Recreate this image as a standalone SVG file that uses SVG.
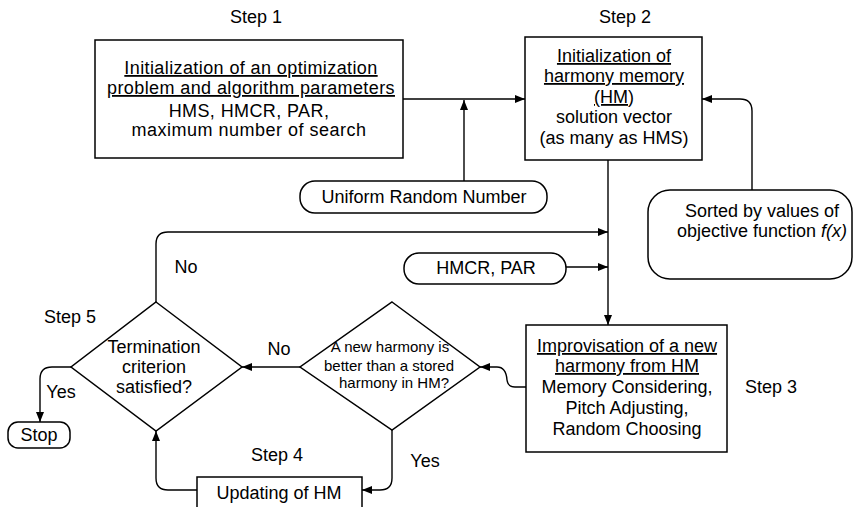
<svg xmlns="http://www.w3.org/2000/svg" width="853" height="507" viewBox="0 0 853 507">
<defs>
<marker id="ah" viewBox="0 0 10 8" refX="10" refY="4" markerWidth="10" markerHeight="8" markerUnits="userSpaceOnUse" orient="auto">
<path d="M0,0 L10,4 L0,8 Z" fill="#000"/>
</marker>
<style>
text{font-family:"Liberation Sans",Arial,sans-serif;font-size:18px;fill:#000;text-anchor:middle}
.sm{font-size:15px}
.u{text-decoration:underline}
.box{fill:#fff;stroke:#000;stroke-width:1.5}
.ln{fill:none;stroke:#000;stroke-width:1.4}
.ar{marker-end:url(#ah)}
</style>
</defs>
<rect width="853" height="507" fill="#fff"/>

<g id="labels">
<text x="256" y="23">Step 1</text>
<text x="625" y="23">Step 2</text>
<text x="771" y="393">Step 3</text>
<text x="277" y="461">Step 4</text>
<text x="70" y="323">Step 5</text>
<text x="186" y="273">No</text>
<text x="279" y="355">No</text>
<text x="61" y="398">Yes</text>
<text x="425" y="467">Yes</text>
</g>

<g id="connectors">
<path class="ln ar" d="M403,99 H525"/>
<path class="ln ar" d="M464,181 V100"/>
<path class="ln ar" d="M752,190 V111 Q752,99 740,99 H702"/>
<path class="ln ar" d="M608,160 V325"/>
<path class="ln ar" d="M156,302 V244 Q156,232 168,232 H608"/>
<path class="ln ar" d="M566,267 H608"/>
<path class="ln ar" d="M526,387 H515 Q508,387 507,380 Q506,367 497,367 H480"/>
<path class="ln ar" d="M300,367 H242"/>
<path class="ln ar" d="M71,367 H52 Q40,367 40,379 V422"/>
<path class="ln ar" d="M392,430 V478 Q392,490 380,490 H362"/>
<path class="ln ar" d="M197,490 H168 Q156,490 156,478 V431"/>
</g>

<g id="step1">
<rect class="box" x="95" y="40" width="308" height="118"/>
<text x="251" y="74" font-size="17" letter-spacing="0.4" class="u">Initialization of an optimization </text>
<text x="251" y="94" font-size="17" letter-spacing="0.4" class="u">problem and algorithm parameters</text>
<text x="249" y="117" letter-spacing="0.4">HMS, HMCR, PAR,</text>
<text x="249" y="136" letter-spacing="0.5">maximum number of search</text>
</g>

<g id="step2">
<rect class="box" x="525" y="37" width="177" height="123"/>
<text x="614" y="62" class="u">Initialization of </text>
<text x="614" y="82" class="u">harmony memory </text>
<text x="614" y="103"><tspan class="u">(HM</tspan>)</text>
<text x="614" y="123">solution vector</text>
<text x="614" y="144">(as many as HMS)</text>
</g>

<g id="uniform">
<rect class="box" x="300" y="181" width="247" height="32" rx="15"/>
<text x="424" y="203">Uniform Random Number</text>
</g>

<g id="hmcrpar">
<rect class="box" x="404" y="253" width="162" height="31" rx="15"/>
<text x="486" y="274">HMCR, PAR</text>
</g>

<g id="sorted">
<rect class="box" x="648" y="190" width="204" height="89" rx="22"/>
<text x="762" y="217">Sorted by values of</text>
<text x="762" y="237">objective function <tspan font-style="italic">f(x)</tspan></text>
</g>

<g id="step3">
<rect class="box" x="526" y="325" width="201" height="127"/>
<text x="627" y="352" class="u">Improvisation of a new </text>
<text x="627" y="372" class="u">harmony from HM</text>
<text x="627" y="393">Memory Considering,</text>
<text x="627" y="414">Pitch Adjusting,</text>
<text x="627" y="435">Random Choosing</text>
</g>

<g id="decision">
<polygon class="box" points="392,302 480,367 392,430 300,367"/>
<text x="390" y="352" class="sm">A new harmony is</text>
<text x="389" y="371" class="sm">better than a stored</text>
<text x="394" y="388" class="sm">harmony in HM?</text>
</g>

<g id="termination">
<polygon class="box" points="156,302 242,367 156,431 71,367"/>
<text x="154" y="353">Termination</text>
<text x="154" y="373">criterion</text>
<text x="154" y="393">satisfied?</text>
</g>

<g id="stop">
<rect class="box" x="8" y="422" width="62" height="26" rx="10"/>
<text x="39" y="441">Stop</text>
</g>

<g id="step4">
<rect class="box" x="197" y="477" width="165" height="40"/>
<text x="279" y="499">Updating of HM</text>
</g>
</svg>
